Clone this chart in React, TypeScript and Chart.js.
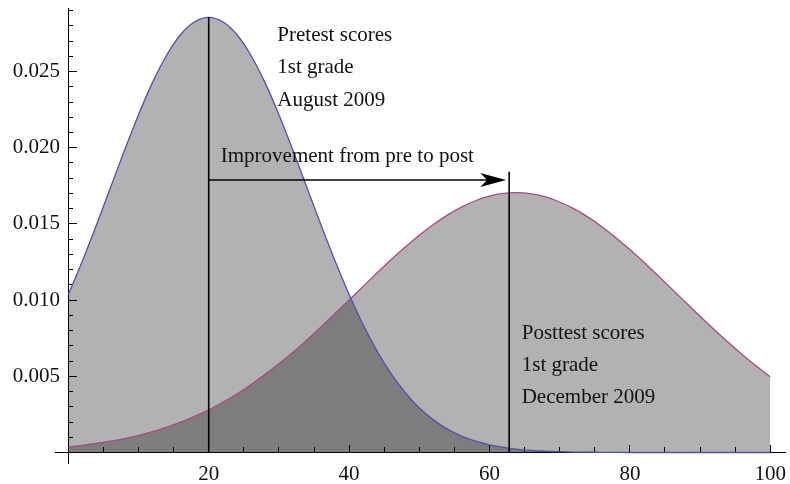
import React, { useEffect, useRef } from "react";
import { Chart, registerables } from "chart.js";

Chart.register(...registerables);

// ---- data ----
const scoreX = [
  0, 2, 4, 6, 8, 10, 12, 14, 16, 18, 20, 22, 24, 26, 28, 30, 32, 34, 36, 38, 40,
  42, 44, 46, 48, 50, 52, 54, 56, 58, 60, 62, 64, 66, 68, 70, 72, 74, 76, 78, 80,
  82, 84, 86, 88, 90, 92, 94, 96, 98, 100,
];

const pretestDensity = [
  0.01037, 0.01257, 0.01493, 0.01738, 0.01983, 0.02217, 0.02429, 0.02607, 0.02743, 0.02827, 0.02856,
  0.02827, 0.02743, 0.02607, 0.02429, 0.02217, 0.01983, 0.01738, 0.01493, 0.01257, 0.01037,
  0.00838, 0.00664, 0.00516, 0.00392, 0.00292, 0.00214, 0.00153, 0.00107, 0.00074, 0.0005,
  0.00033, 0.00021, 0.00013, 0.00008, 0.00005, 0.00003, 0.00002, 0.00001, 0.000005, 0,
  0, 0, 0, 0, 0, 0, 0, 0, 0, 0,
];

const posttestDensity = [
  0.00037, 0.00047, 0.00059, 0.00074, 0.00091, 0.00112, 0.00137, 0.00165, 0.00199, 0.00237, 0.0028,
  0.0033, 0.00384, 0.00445, 0.00511, 0.00582, 0.00658, 0.00739, 0.00824, 0.00912, 0.01001,
  0.0109, 0.01179, 0.01266, 0.01348, 0.01425, 0.01496, 0.01558, 0.0161, 0.01652, 0.01682,
  0.017, 0.01705, 0.01697, 0.01677, 0.01644, 0.016, 0.01546, 0.01482, 0.0141, 0.01332,
  0.01249, 0.01161, 0.01072, 0.00983, 0.00894, 0.00807, 0.00723, 0.00643, 0.00567, 0.00497,
];

const xMajorTicks = [20, 40, 60, 80, 100];
const xMinorTicks = [5, 10, 15, 25, 30, 35, 45, 50, 55, 65, 70, 75, 85, 90, 95];
const yMajorTicks = [0.005, 0.01, 0.015, 0.02, 0.025];
const yMinorTicks = [
  0.001, 0.002, 0.003, 0.004, 0.006, 0.007, 0.008, 0.009, 0.011, 0.012, 0.013, 0.014,
  0.016, 0.017, 0.018, 0.019, 0.021, 0.022, 0.023, 0.024, 0.026, 0.027, 0.028, 0.029,
];

const pretestLabel = ["Pretest scores", "1st grade", "August 2009"];
const posttestLabel = ["Posttest scores", "1st grade", "December 2009"];
const arrowLabel = "Improvement from pre to post";

const pretestMark = 20;
const pretestPeak = 0.02856;
const posttestMark = 62.8;
const posttestMarkTop = 0.01843;
const arrowLevel = 0.01788;

const pretestLabelAt = [29.77, 0.02703];
const posttestLabelAt = [64.59, 0.00743];
const arrowLabelAt = [21.72, 0.01909];

const X_MIN = -1.9;
const X_MAX = 102.1;
const Y_MIN = -0.00069;
const Y_MAX = 0.02917;

const FONT = "'Liberation Serif', 'Times New Roman', serif";
const TEXT = "#111111";

const zeroPad = (s: any) => {
  s.paddingTop = 0;
  s.paddingBottom = 0;
  s.paddingLeft = 0;
  s.paddingRight = 0;
};

const annotate = {
  id: "annotate",
  afterDatasetsDraw(chart: any) {
    const { ctx, scales } = chart;
    const x = scales.x;
    const y = scales.y;
    ctx.save();
    ctx.strokeStyle = "#000";
    ctx.fillStyle = "#000";
    ctx.lineWidth = 1.6;
    const y0 = y.getPixelForValue(0);
    const p1 = x.getPixelForValue(pretestMark);
    ctx.beginPath();
    ctx.moveTo(p1, y0);
    ctx.lineTo(p1, y.getPixelForValue(pretestPeak));
    ctx.stroke();
    const p2 = x.getPixelForValue(posttestMark);
    ctx.beginPath();
    ctx.moveTo(p2, y0);
    ctx.lineTo(p2, y.getPixelForValue(posttestMarkTop));
    ctx.stroke();
    // arrow
    const ay = y.getPixelForValue(arrowLevel);
    const tip = p2 - 3;
    ctx.beginPath();
    ctx.moveTo(p1, ay);
    ctx.lineTo(tip - 18, ay);
    ctx.stroke();
    ctx.beginPath();
    ctx.moveTo(tip, ay);
    ctx.lineTo(tip - 26, ay - 7);
    ctx.lineTo(tip - 19, ay);
    ctx.lineTo(tip - 26, ay + 7);
    ctx.closePath();
    ctx.fill();
    // text
    ctx.font = `21px ${FONT}`;
    ctx.fillStyle = TEXT;
    ctx.textAlign = "left";
    ctx.textBaseline = "alphabetic";
    const block = (lines: string[], at: number[], gap: number) => {
      const lx = x.getPixelForValue(at[0]);
      const ly = y.getPixelForValue(at[1]);
      lines.forEach((t, i) => ctx.fillText(t, lx, ly + i * gap));
    };
    block(pretestLabel, pretestLabelAt, 32.5);
    block(posttestLabel, posttestLabelAt, 32);
    block([arrowLabel], arrowLabelAt, 0);
    ctx.restore();
  },
};

export default function App() {
  const ref = useRef<HTMLCanvasElement | null>(null);

  useEffect(() => {
    document.body.style.margin = "0";
    const canvas = ref.current;
    if (!canvas) return;
    const chart = new Chart(canvas, {
      type: "line",
      data: {
        datasets: [
          {
            label: "Pretest",
            data: scoreX.map((v, i) => ({ x: v, y: pretestDensity[i] })),
            borderColor: "#5050aa",
            borderWidth: 1.3,
            backgroundColor: "rgba(0,0,0,0.3)",
            fill: "origin",
            pointRadius: 0,
            cubicInterpolationMode: "monotone",
          },
          {
            label: "Posttest",
            data: scoreX.map((v, i) => ({ x: v, y: posttestDensity[i] })),
            borderColor: "#a64a82",
            borderWidth: 1.3,
            backgroundColor: "rgba(0,0,0,0.3)",
            fill: "origin",
            pointRadius: 0,
            cubicInterpolationMode: "monotone",
          },
        ],
      },
      options: {
        responsive: false,
        animation: false,
        events: [],
        layout: { padding: { left: 55, right: 5, top: 8, bottom: 21 } },
        plugins: {
          legend: { display: false },
          tooltip: { enabled: false },
          filler: { drawTime: "beforeDatasetsDraw" },
        },
        scales: {
          x: {
            type: "linear",
            axis: "x",
            position: { y: 0 },
            min: X_MIN,
            max: X_MAX,
            z: 1,
            afterBuildTicks: (s: any) => {
              s.ticks = xMajorTicks.map((v) => ({ value: v }));
            },
            afterFit: zeroPad,
            grid: { drawOnChartArea: false, drawTicks: true, tickLength: -8, tickColor: "#000", tickWidth: 1 },
            border: { display: true, color: "#000", width: 1 },
            ticks: {
              autoSkip: false,
              maxRotation: 0,
              padding: 17,
              color: TEXT,
              font: { family: FONT, size: 21 },
              callback: (v: any) => String(v),
            },
          },
          x2: {
            type: "linear",
            axis: "x",
            position: { y: 0 },
            min: X_MIN,
            max: X_MAX,
            z: 1,
            afterBuildTicks: (s: any) => {
              s.ticks = xMinorTicks.map((v) => ({ value: v }));
            },
            afterFit: zeroPad,
            grid: { drawOnChartArea: false, drawTicks: true, tickLength: -5, tickColor: "#000", tickWidth: 1 },
            border: { display: false },
            ticks: { display: false },
          },
          y: {
            type: "linear",
            axis: "y",
            position: { x: 0 },
            min: Y_MIN,
            max: Y_MAX,
            z: 1,
            afterBuildTicks: (s: any) => {
              s.ticks = yMajorTicks.map((v) => ({ value: v }));
            },
            afterFit: zeroPad,
            grid: { drawOnChartArea: false, drawTicks: true, tickLength: -9, tickColor: "#000", tickWidth: 1 },
            border: { display: true, color: "#000", width: 1 },
            ticks: {
              autoSkip: false,
              padding: 17,
              color: TEXT,
              font: { family: FONT, size: 21 },
              callback: (v: any) => Number(v).toFixed(3) + "\u2009\u2009",
            },
          },
          y2: {
            type: "linear",
            axis: "y",
            position: { x: 0 },
            min: Y_MIN,
            max: Y_MAX,
            z: 1,
            afterBuildTicks: (s: any) => {
              s.ticks = yMinorTicks.map((v) => ({ value: v }));
            },
            afterFit: zeroPad,
            grid: { drawOnChartArea: false, drawTicks: true, tickLength: -5, tickColor: "#000", tickWidth: 1 },
            border: { display: false },
            ticks: { display: false },
          },
        },
      } as any,
      plugins: [annotate],
    });
    return () => chart.destroy();
  }, []);

  return <canvas ref={ref} width={790} height={484} style={{ display: "block" }} />;
}
